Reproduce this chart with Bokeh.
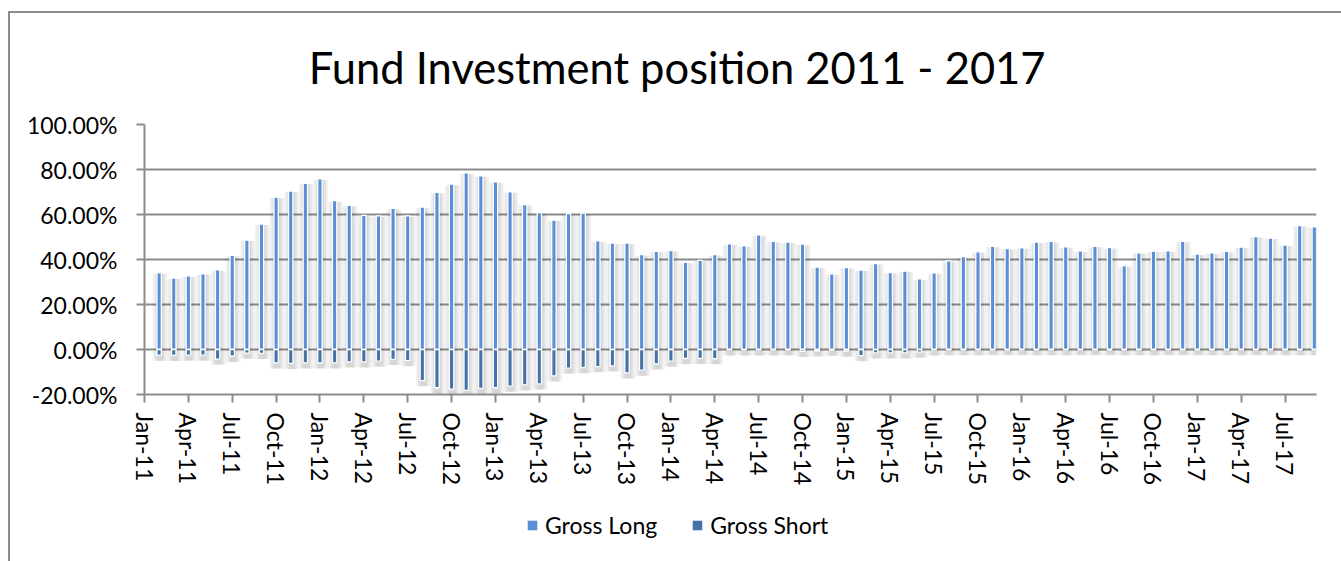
from bokeh.plotting import figure
from bokeh.layouts import column
from bokeh.models import (Range1d, FixedTicker, PrintfTickFormatter, Legend,
                          LegendItem, ColumnDataSource, Label)
from bokeh.embed import file_html
from bokeh.resources import INLINE

# Month index counted from Jan-11 (= 0); bars run Feb-11 .. Sep-17
month_index = list(range(1, 81))

gross_long = [34.1, 31.7, 32.7, 33.6, 35.4, 41.9, 48.6, 55.7, 67.7, 70.4,
              73.9, 75.8, 66.2, 64.1, 59.6, 59.4, 62.7, 59.4, 63.3, 69.9,
              73.5, 78.5, 77.2, 74.5, 70.1, 64.4, 60.9, 57.5, 60.4, 60.6,
              48.3, 47.3, 47.3, 42.2, 43.6, 44.0, 38.7, 39.6, 42.2, 47.0,
              46.1, 51.0, 48.1, 47.7, 46.8, 36.6, 33.6, 36.4, 35.3, 38.2,
              34.2, 34.8, 31.4, 34.1, 39.4, 41.3, 43.4, 45.8, 44.9, 45.2,
              47.7, 48.1, 45.6, 43.9, 45.9, 45.3, 37.2, 43.0, 43.7, 43.9,
              48.1, 42.4, 43.0, 43.6, 45.5, 50.2, 49.5, 46.4, 55.1, 54.5]

gross_short = [-2.5, -2.6, -2.5, -2.5, -4.3, -3.0, -1.6, -1.7, -5.9, -6.2,
               -5.9, -5.9, -5.9, -5.5, -5.5, -5.2, -4.4, -4.9, -13.8, -17.0,
               -17.6, -18.2, -17.3, -17.0, -16.3, -15.7, -15.3, -11.7, -8.3, -8.0,
               -7.6, -7.3, -10.4, -9.2, -6.4, -5.2, -4.0, -3.9, -4.1, -0.2,
               -0.2, -0.2, -0.2, -0.2, -0.8, -0.6, -0.3, -0.7, -2.7, -1.5,
               -1.5, -1.5, -1.2, -0.2, -0.1, -0.1, -0.1, -0.1, -0.1, -0.1,
               -0.1, -0.1, -0.1, -0.1, -0.1, -0.1, -0.1, -0.1, -0.1, -0.1,
               -0.1, -0.1, -0.1, -0.1, -0.1, -0.1, -0.1, -0.1, -0.1, -0.1]

tick_positions = list(range(0, 79, 3))
tick_labels = ["Jan-11", "Apr-11", "Jul-11", "Oct-11", "Jan-12", "Apr-12",
               "Jul-12", "Oct-12", "Jan-13", "Apr-13", "Jul-13", "Oct-13",
               "Jan-14", "Apr-14", "Jul-14", "Oct-14", "Jan-15", "Apr-15",
               "Jul-15", "Oct-15", "Jan-16", "Apr-16", "Jul-16", "Oct-16",
               "Jan-17", "Apr-17", "Jul-17"]

title_text = "Fund Investment position 2011 - 2017"
series_names = ["Gross Long", "Gross Short"]
FONT = "Lato"
GRID = "#8c8c8c"
LONG_COLOR = "#5a8fd8"
SHORT_COLOR = "#4472a9"
X_END = 80.15

src = ColumnDataSource(dict(
    x=month_index,
    xs=[m + 0.06 for m in month_index],
    long=gross_long,
    short=gross_short,
    shadow_top=[v - 0.4 for v in gross_long],
    shadow_bottom=[v - 2.5 for v in gross_short],
))


def strip(height, y_range):
    f = figure(width=1331, height=height, output_backend="svg",
               toolbar_location=None, x_range=Range1d(0, X_END),
               y_range=y_range, x_axis_type=None, y_axis_type=None,
               min_border_left=134, min_border_right=25, min_border_top=0,
               min_border_bottom=0)
    f.outline_line_color = None
    f.grid.grid_line_color = None
    f.border_fill_color = "white"
    f.background_fill_color = "white"
    return f


# ---- title strip ----
pt = strip(96, Range1d(0, 96))
pt.add_layout(Label(x=X_END * 0.4545, y=43, text=title_text, text_align="center",
                    text_baseline="alphabetic", text_font=FONT,
                    text_font_size="43.5px", text_color="black"))

# ---- main chart ----
p = figure(width=1331, height=396, output_backend="svg", toolbar_location=None,
           x_range=Range1d(0, X_END), y_range=Range1d(-20, 100),
           min_border_left=134, min_border_right=25,
           min_border_top=15, min_border_bottom=111)
p.outline_line_color = None
p.background_fill_color = "white"
p.border_fill_color = "white"

# soft shadow behind the bars
for w in (1.0, 0.72, 0.46):
    p.vbar(x="xs", top="shadow_top", bottom="shadow_bottom", width=w, source=src,
           fill_color="black", fill_alpha=0.055, line_color=None)

p.vbar(x="x", top="long", bottom=0, width=0.3, source=src,
       fill_color=LONG_COLOR, line_color="white", line_width=1.3)
p.vbar(x="x", top=0, bottom="short", width=0.3, source=src,
       fill_color=SHORT_COLOR, line_color="white", line_width=1.3)

p.xaxis.ticker = FixedTicker(ticks=tick_positions)
p.xaxis.major_label_overrides = {t: l for t, l in zip(tick_positions, tick_labels)}
p.xaxis.major_label_orientation = "vertical"
p.xaxis.bounds = (0, X_END)
p.yaxis.ticker = FixedTicker(ticks=[-20, 0, 20, 40, 60, 80, 100])
p.yaxis.formatter = PrintfTickFormatter(format="%.2f%%")
for ax in (p.xaxis, p.yaxis):
    ax.axis_line_color = GRID
    ax.axis_line_width = 2
    ax.major_tick_line_color = GRID
    ax.major_tick_line_width = 2
    ax.major_tick_out = 8
    ax.major_tick_in = 0
    ax.minor_tick_line_color = None
    ax.major_label_text_font = FONT
    ax.major_label_text_font_size = "23px"
    ax.major_label_text_color = "black"
p.xaxis.major_label_standoff = 10
p.yaxis.major_label_standoff = 19
p.xgrid.grid_line_color = None
p.ygrid.grid_line_color = GRID
p.ygrid.grid_line_width = 2
p.ygrid.cross_bounds = (0, X_END)

# ---- legend strip (its bars lie below this strip's y range) ----
pl = strip(56, Range1d(150, 151))
lr = pl.vbar(x="x", top="long", bottom=0, width=0.3, source=src,
             fill_color=LONG_COLOR, line_color=None)
sr = pl.vbar(x="x", top=0, bottom="short", width=0.3, source=src,
             fill_color=SHORT_COLOR, line_color=None)
legend = Legend(items=[LegendItem(label=series_names[0], renderers=[lr]),
                       LegendItem(label=series_names[1], renderers=[sr])],
                orientation="horizontal", location=(382, 22),
                label_text_font=FONT, label_text_font_size="23px",
                label_text_color="black",
                glyph_width=12, glyph_height=12, spacing=34, label_standoff=7,
                padding=0, margin=0, border_line_color=None,
                background_fill_alpha=0)
pl.add_layout(legend)

layout = column(pt, p, pl, spacing=0, margin=(11, 0, 0, 8),
                styles={"border-top": "2px solid #8c8c8c",
                        "border-left": "2px solid #8c8c8c"})

open("out.html", "w").write(file_html(layout, INLINE))
